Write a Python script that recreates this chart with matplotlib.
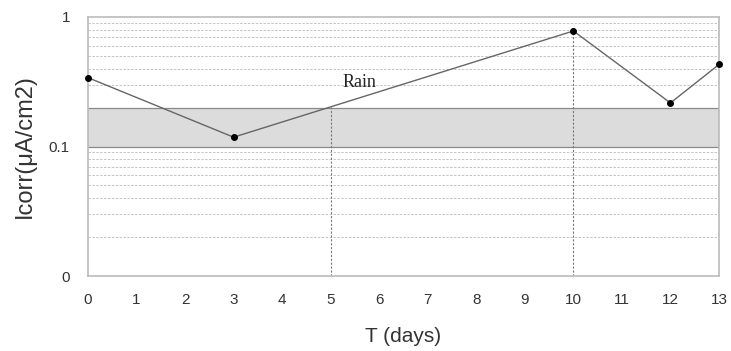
import matplotlib
matplotlib.use("Agg")
import matplotlib.pyplot as plt
import numpy as np

days = [0, 3, 10, 12, 13]
icorr = [0.34, 0.118, 0.78, 0.217, 0.43]
x_ticks = list(range(0, 14))
y_ticks = [0.01, 0.1, 1]
y_tick_labels = ["0", "0.1", "1"]
band = (0.1, 0.2)
marker_days = [5, 10]
rain_label = "Rain"

plt.rcParams['font.family'] = ['Liberation Sans', 'DejaVu Sans']

fig = plt.figure(figsize=(7.31, 3.51), dpi=100)
ax = fig.add_axes([88/731, 1-276/351, (719-88)/731, (276-17)/351])
ax.set_yscale('log')
ax.set_xlim(0, 13)
ax.set_ylim(0.01, 1)

# grid lines at minor decades
for dec in [0.01, 0.1]:
    for m in range(2, 10):
        ax.axhline(dec*m, color='#c4c4c4', lw=0.7, ls=(0, (2.5, 1.5)), zorder=1)

ax.axhspan(band[0], band[1], facecolor='#dcdcdc', edgecolor='none', zorder=1.5)
for b in band:
    ax.axhline(b, color='#8a8a8a', lw=0.9, zorder=2)

# vertical dotted lines up to the data line
logy = np.log10(icorr)
for d in marker_days:
    yv = 10**np.interp(d, days, logy)
    ax.plot([d, d], [0.01, yv], color='#777777', lw=0.8, ls=(0, (2, 1.5)), zorder=2)

ax.plot(days, icorr, color='#666666', lw=1.0, marker='o', markersize=4,
        markerfacecolor='black', markeredgecolor='black', zorder=4, clip_on=False)

ax.text(5.6, 0.31, rain_label, family=['Liberation Serif', 'DejaVu Serif'],
        fontsize=13, color='#222222', ha='center', va='center', zorder=5)

ax.set_xticks(x_ticks)
ax.set_xticklabels([str(t) for t in x_ticks], fontsize=11)
ax.set_yticks(y_ticks)
ax.set_yticklabels(y_tick_labels, fontsize=11)
ax.yaxis.set_minor_locator(matplotlib.ticker.NullLocator())
ax.tick_params(axis='both', length=0, colors='#333333')
ax.tick_params(axis='x', pad=12)
ax.tick_params(axis='y', pad=13)

for s in ax.spines.values():
    s.set_color('#bbbbbb')
    s.set_linewidth(1.2)

ax.set_xlabel("T (days)", fontsize=15, color='#333333', labelpad=15)
ax.set_ylabel("Icorr(μA/cm2)", fontsize=17, color='#333333', labelpad=9)

fig.savefig("out.png", dpi=100)
